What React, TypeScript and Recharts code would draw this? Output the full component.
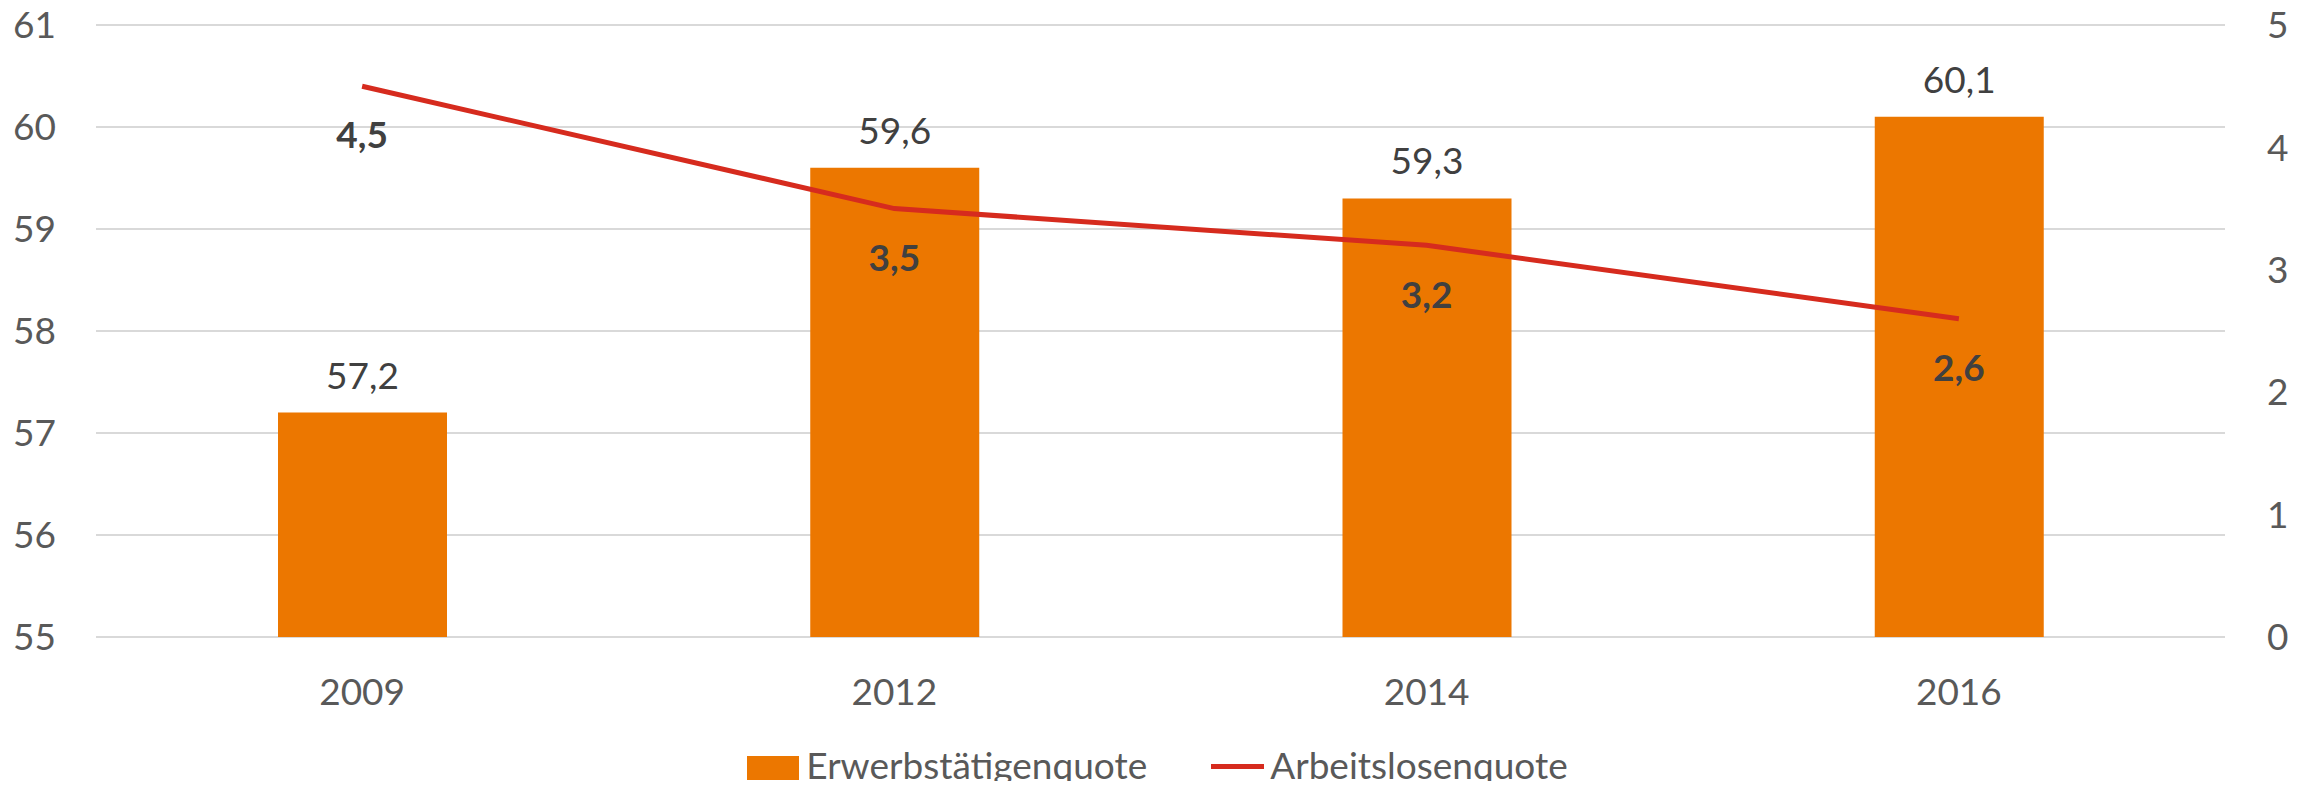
import { ComposedChart, Bar, Line, XAxis, YAxis, CartesianGrid, Legend, LabelList } from 'recharts'

const years = ['2009', '2012', '2014', '2016']
const erwerbstaetigenquote = [57.2, 59.6, 59.3, 60.1]
const arbeitslosenquote = [4.5, 3.5, 3.2, 2.6]
const leftTicks = [55, 56, 57, 58, 59, 60, 61]
const rightTicks = [0, 1, 2, 3, 4, 5]

const data = years.map((year, i) => ({
  year,
  erwerb: erwerbstaetigenquote[i],
  arbeitslos: arbeitslosenquote[i],
}))

const FONT = 'Lato, "Open Sans", sans-serif'
const ORANGE = '#EC7700'
const RED = '#D62B1E'
const GREY = '#595959'

const fmt = (v: any) => String(v).replace('.', ',')

function renderLegend() {
  return (
    <div
      style={{
        height: 42,
        display: 'flex',
        justifyContent: 'center',
        alignItems: 'center',
        fontFamily: FONT,
        fontSize: 37,
        color: GREY,
      }}
    >
      <span style={{ width: 52, height: 24, background: ORANGE, marginRight: 7 }} />
      <span style={{ position: 'relative', top: -4 }}>Erwerbstätigenquote</span>
      <span style={{ width: 53, height: 5, background: RED, marginLeft: 64, marginRight: 6, position: 'relative', top: -2 }} />
      <span style={{ position: 'relative', top: -4 }}>Arbeitslosenquote</span>
    </div>
  )
}

export default function App() {
  return (
    <div style={{ margin: -8, background: '#fff', width: 2315, height: 789 }}>
      <ComposedChart
        width={2315}
        height={789}
        data={data}
        margin={{ top: 25, right: 0, left: 0, bottom: 0 }}
        barSize={169}
      >
        <CartesianGrid vertical={false} stroke="#D9D9D9" strokeWidth={2} yAxisId="left" />
        <XAxis
          dataKey="year"
          axisLine={false}
          tickLine={false}
          tickSize={0}
          tickMargin={42}
          height={110}
          tick={{ fontSize: 37, fill: GREY, fontFamily: FONT }}
        />
        <YAxis
          yAxisId="left"
          domain={[55, 61]}
          ticks={leftTicks}
          width={96}
          axisLine={false}
          tickLine={false}
          tickSize={0}
          tickMargin={40}
          tick={{ fontSize: 37, fill: GREY, fontFamily: FONT }}
        />
        <YAxis
          yAxisId="right"
          orientation="right"
          domain={[0, 5]}
          ticks={rightTicks}
          width={90}
          axisLine={false}
          tickLine={false}
          tickSize={0}
          tickMargin={42}
          tick={{ fontSize: 37, fill: GREY, fontFamily: FONT, textAnchor: 'start' }}
        />
        <Legend verticalAlign="bottom" content={renderLegend} />
        <Bar yAxisId="left" dataKey="erwerb" name="Erwerbstätigenquote" fill={ORANGE} isAnimationActive={false}>
          <LabelList
            dataKey="erwerb"
            position="top"
            offset={24}
            formatter={fmt}
            style={{ fontSize: 37, fill: '#404040', fontFamily: FONT }}
          />
        </Bar>
        <Line
          yAxisId="right"
          dataKey="arbeitslos"
          name="Arbeitslosenquote"
          stroke={RED}
          strokeWidth={5}
          dot={false}
          activeDot={false}
          isAnimationActive={false}
        >
          <LabelList
            dataKey="arbeitslos"
            position="bottom"
            offset={36}
            formatter={fmt}
            style={{ fontSize: 37, fontWeight: 700, fill: '#404040', fontFamily: FONT }}
          />
        </Line>
      </ComposedChart>
    </div>
  )
}
